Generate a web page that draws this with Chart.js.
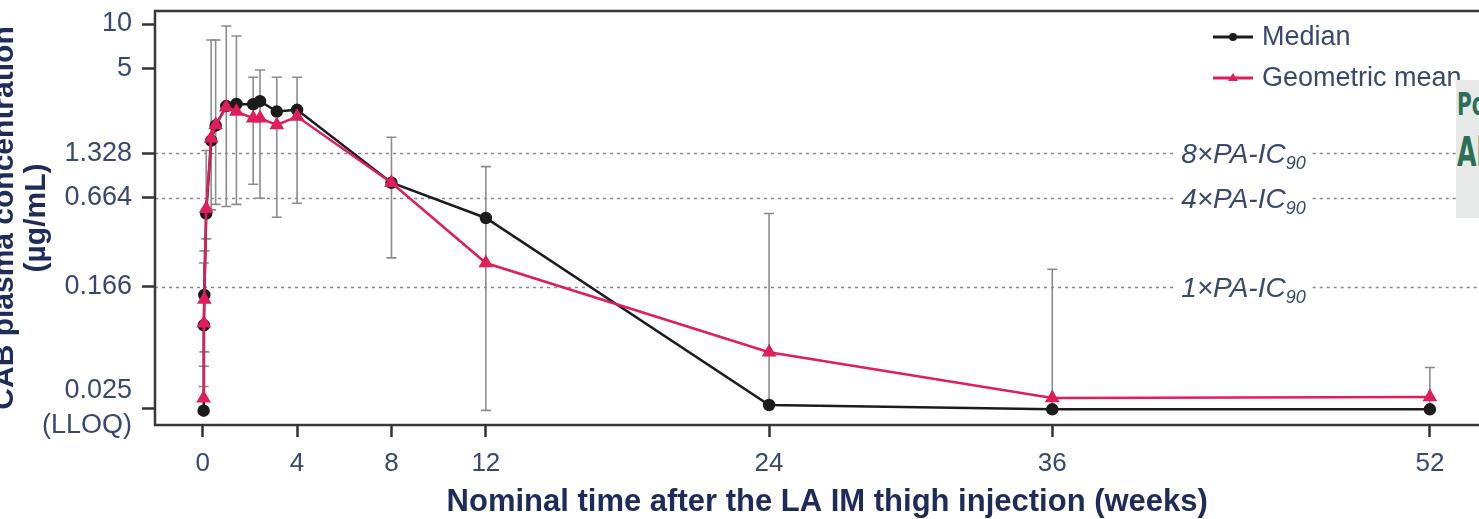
<!DOCTYPE html>
<html>
<head>
<meta charset="utf-8">
<script src="https://cdn.jsdelivr.net/npm/chart.js@4/dist/chart.umd.min.js"></script>
<style>
  html, body { margin: 0; padding: 0; background: #fff; overflow: hidden; width: 1479px; height: 519px; }
  #wrap { position: absolute; left: -22px; top: 0; width: 1530px; height: 519px; }
  #sidebox {
    position: absolute; left: 1456px; top: 80px; width: 60px; height: 138px;
    background: #e6e9e7; overflow: hidden; color: #2b6f57; font-weight: bold;
    font-family: "DejaVu Sans Condensed", "Liberation Sans Narrow", Roboto, sans-serif;
  }
  #sidebox div { position: absolute; left: 1px; transform: scaleX(0.7); transform-origin: left top; white-space: nowrap; }
  #sidebox .l1 { top: 8px; font-size: 32px; line-height: 32px; }
  #sidebox .l2 { top: 52px; font-size: 40px; line-height: 40px; }
</style>
</head>
<body>
<div id="wrap"><canvas id="pkChart"></canvas></div>
<div id="sidebox"><div class="l1">Po</div><div class="l2">Al</div></div>
<script>
// nominal times (weeks) and CAB concentrations (ug/mL)
const weeks     = [0.04, 0.05, 0.07, 0.15, 0.36, 0.55, 1, 1.43, 2.14, 2.43, 3.14, 4, 8, 12, 24, 36, 52];
const median    = [0.024, 0.091, 0.146, 0.52, 1.62, 2.05, 2.78, 2.87, 2.86, 3.0, 2.55, 2.62, 0.84, 0.485, 0.0262, 0.0245, 0.0245];
const geoMean   = [0.0291, 0.094, 0.136, 0.56, 1.68, 2.07, 2.73, 2.55, 2.30, 2.30, 2.07, 2.36, 0.84, 0.24, 0.0597, 0.0292, 0.0297];
const rangeLow  = [0.024, 0.048, 0.06, 0.35, 0.55, 0.6, 0.58, 0.6, 0.82, 0.66, 0.49, 0.61, 0.26, 0.0241, 0.0262, 0.0245, 0.0245];
const rangeHigh = [0.035, 0.24, 0.29, 1.39, 7.8, 7.8, 9.7, 8.3, 4.36, 4.88, 4.36, 4.36, 1.71, 1.08, 0.52, 0.218, 0.047];

const xTicks = [0, 4, 8, 12, 24, 36, 52];
const yTicks = [0.025, 0.166, 0.664, 1.328, 5, 10];
const yTickText = [['0.025', '(LLOQ)'], '0.166', '0.664', '1.328', '5', '10'];

// PA-IC90 reference levels
const refLevels = [1.328, 0.664, 0.166];
const refMultiples = ['8', '4', '1'];

const tickColor = '#3a476f';
const titleColor = '#1f2c5a';
const fontFam = '"Liberation Sans", Arial, Helvetica, sans-serif';

const refLines = {
  id: 'refLines',
  beforeDatasetsDraw(chart) {
    const { ctx, chartArea: a, scales: { x, y } } = chart;
    const cx = x.getPixelForValue(44.1);
    ctx.save();
    refLevels.forEach((v, i) => {
      const py = Math.round(y.getPixelForValue(v)) + 0.5;
      const main = refMultiples[i] + '\u00d7PA-IC';
      ctx.font = 'italic 28px ' + fontFam;
      const wMain = ctx.measureText(main).width;
      ctx.font = 'italic 18px ' + fontFam;
      const wSub = ctx.measureText('90').width;
      const x0 = cx - (wMain + wSub) / 2;
      ctx.strokeStyle = '#8a8a8a';
      ctx.lineWidth = 1.5;
      ctx.setLineDash([3, 4]);
      ctx.beginPath();
      ctx.moveTo(a.left, py); ctx.lineTo(x0 - 7, py);
      ctx.moveTo(x0 + wMain + wSub + 7, py); ctx.lineTo(a.right, py);
      ctx.stroke();
      ctx.setLineDash([]);
      ctx.fillStyle = tickColor;
      ctx.textBaseline = 'middle';
      ctx.textAlign = 'left';
      ctx.font = 'italic 28px ' + fontFam;
      ctx.fillText(main, x0, py + 2);
      ctx.font = 'italic 18px ' + fontFam;
      ctx.fillText('90', x0 + wMain, py + 10);
    });
    ctx.restore();
  }
};

const errorBars = {
  id: 'errorBars',
  beforeDatasetsDraw(chart) {
    const { ctx, scales: { x, y } } = chart;
    ctx.save();
    ctx.strokeStyle = '#8c8c8c';
    ctx.lineWidth = 1.6;
    weeks.forEach((w, i) => {
      const px = x.getPixelForValue(w);
      const top = y.getPixelForValue(rangeHigh[i]);
      const bot = y.getPixelForValue(rangeLow[i]);
      ctx.beginPath();
      ctx.moveTo(px, top); ctx.lineTo(px, bot);
      ctx.moveTo(px - 5, top); ctx.lineTo(px + 5, top);
      ctx.moveTo(px - 5, bot); ctx.lineTo(px + 5, bot);
      ctx.stroke();
    });
    ctx.restore();
  }
};

const frameAndLegend = {
  id: 'frameAndLegend',
  afterDraw(chart) {
    const { ctx, chartArea: a } = chart;
    ctx.save();
    ctx.strokeStyle = '#383838';
    ctx.lineWidth = 2.5;
    ctx.strokeRect(a.left, a.top, a.right - a.left, a.bottom - a.top);

    // legend, top right inside the plot
    chart.data.datasets.forEach((ds, i) => {
      const lx = a.left + 1058;
      const ly = a.top + 26 + i * 41;
      ctx.strokeStyle = ds.borderColor;
      ctx.fillStyle = ds.borderColor;
      ctx.lineWidth = 3;
      ctx.beginPath();
      ctx.moveTo(lx, ly); ctx.lineTo(lx + 40, ly);
      ctx.stroke();
      ctx.beginPath();
      if (ds.pointStyle === 'triangle') {
        ctx.moveTo(lx + 20, ly - 5); ctx.lineTo(lx + 25, ly + 3); ctx.lineTo(lx + 15, ly + 3);
      } else {
        ctx.arc(lx + 20, ly, 4, 0, Math.PI * 2);
      }
      ctx.fill();
      ctx.fillStyle = tickColor;
      ctx.font = '27px ' + fontFam;
      ctx.textBaseline = 'middle';
      ctx.fillText(ds.label, lx + 49, ly + 1);
    });
    ctx.restore();
  }
};

new Chart(document.getElementById('pkChart').getContext('2d'), {
  type: 'line',
  data: {
    datasets: [
      {
        label: 'Median',
        data: weeks.map((w, i) => ({ x: w, y: median[i] })),
        borderColor: '#1c1c1c',
        backgroundColor: '#1c1c1c',
        borderWidth: 2.5,
        pointStyle: 'circle',
        pointRadius: 5,
        tension: 0,
        order: 2
      },
      {
        label: 'Geometric mean',
        data: weeks.map((w, i) => ({ x: w, y: geoMean[i] })),
        borderColor: '#df1e5a',
        backgroundColor: '#df1e5a',
        borderWidth: 2.5,
        pointStyle: 'triangle',
        pointRadius: 6,
        tension: 0,
        order: 1
      }
    ]
  },
  options: {
    responsive: true,
    maintainAspectRatio: false,
    animation: false,
    layout: { padding: { top: 11, right: 0, bottom: 0, left: 0 } },
    plugins: { legend: { display: false }, tooltip: { enabled: false } },
    scales: {
      x: {
        type: 'linear',
        min: -2.02,
        max: 54.95,
        afterBuildTicks: s => { s.ticks = xTicks.map(v => ({ value: v })); },
        afterFit: s => { s.height = 94; s.paddingLeft = 0; s.paddingRight = 0; },
        grid: { drawOnChartArea: false, drawTicks: true, tickLength: 12, tickColor: '#333', tickWidth: 2.5 },
        border: { display: false },
        ticks: { autoSkip: false, maxRotation: 0, padding: 11, color: tickColor, font: { family: fontFam, size: 26 } },
        title: {
          display: true,
          text: 'Nominal time after the LA IM thigh injection (weeks)',
          color: titleColor,
          font: { family: fontFam, size: 31, weight: 'bold', lineHeight: 1.05 },
          padding: { top: 0, bottom: 0 }
        }
      },
      y: {
        type: 'logarithmic',
        min: 0.01918,
        max: 12.25,
        afterBuildTicks: s => { s.ticks = yTicks.map(v => ({ value: v })); },
        afterFit: s => { s.width = 177; s.paddingTop = 0; s.paddingBottom = 0; },
        grid: { drawOnChartArea: false, drawTicks: true, tickLength: 13, tickColor: '#333', tickWidth: 2.5 },
        border: { display: false },
        ticks: {
          autoSkip: false,
          padding: 10,
          color: tickColor,
          font: { family: fontFam, size: 27, lineHeight: 1.3 },
          callback: v => yTickText[yTicks.indexOf(v)]
        },
        title: {
          display: true,
          text: ['CAB plasma concentration', '(\u00b5g/mL)'],
          color: titleColor,
          font: { family: fontFam, size: 30, weight: 'bold', lineHeight: 1.07 },
          padding: { top: 11, bottom: 0 }
        }
      }
    }
  },
  plugins: [refLines, errorBars, frameAndLegend]
});
</script>
</body>
</html>
